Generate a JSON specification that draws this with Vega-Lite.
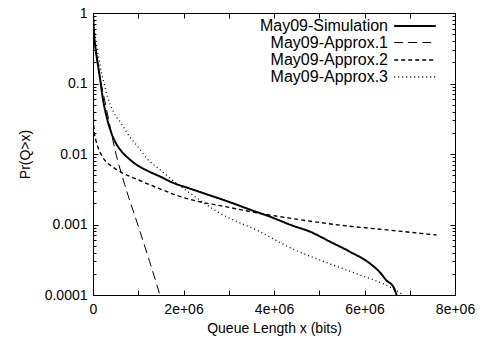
{
  "$schema": "https://vega.github.io/schema/vega-lite/v6.json",
  "width": 362,
  "height": 282,
  "autosize": "none",
  "padding": {"left": 93, "top": 13, "right": 36, "bottom": 44},
  "background": "white",
  "config": {
    "view": {"stroke": "black", "strokeWidth": 1},
    "axis": {
      "domainColor": "black",
      "tickColor": "black",
      "labelColor": "black",
      "titleColor": "black",
      "labelFont": "Liberation Sans",
      "titleFont": "Liberation Sans",
      "labelFontSize": 14,
      "titleFontSize": 14,
      "titleFontWeight": "normal",
      "grid": false
    },
    "legend": {
      "labelFont": "Liberation Sans",
      "labelFontSize": 16,
      "labelColor": "black"
    }
  },
  "data": {
    "values": [
      {"s": "May09-Simulation", "x": 0, "y": 1},
      {"s": "May09-Simulation", "x": 10000, "y": 0.7},
      {"s": "May09-Simulation", "x": 30000, "y": 0.45},
      {"s": "May09-Simulation", "x": 60000, "y": 0.3},
      {"s": "May09-Simulation", "x": 100000, "y": 0.2},
      {"s": "May09-Simulation", "x": 150000, "y": 0.125},
      {"s": "May09-Simulation", "x": 220000, "y": 0.06},
      {"s": "May09-Simulation", "x": 300000, "y": 0.034},
      {"s": "May09-Simulation", "x": 405000, "y": 0.02},
      {"s": "May09-Simulation", "x": 500000, "y": 0.0145},
      {"s": "May09-Simulation", "x": 626000, "y": 0.011},
      {"s": "May09-Simulation", "x": 800000, "y": 0.0085},
      {"s": "May09-Simulation", "x": 1000000, "y": 0.0068},
      {"s": "May09-Simulation", "x": 1200000, "y": 0.0058},
      {"s": "May09-Simulation", "x": 1480000, "y": 0.0048},
      {"s": "May09-Simulation", "x": 1770000, "y": 0.0039},
      {"s": "May09-Simulation", "x": 2100000, "y": 0.0033},
      {"s": "May09-Simulation", "x": 2500000, "y": 0.0027},
      {"s": "May09-Simulation", "x": 3000000, "y": 0.0021},
      {"s": "May09-Simulation", "x": 3500000, "y": 0.0016},
      {"s": "May09-Simulation", "x": 3900000, "y": 0.0013},
      {"s": "May09-Simulation", "x": 4400000, "y": 0.00097},
      {"s": "May09-Simulation", "x": 4800000, "y": 0.00079},
      {"s": "May09-Simulation", "x": 5240000, "y": 0.00057},
      {"s": "May09-Simulation", "x": 5680000, "y": 0.00041},
      {"s": "May09-Simulation", "x": 6120000, "y": 0.00028},
      {"s": "May09-Simulation", "x": 6340000, "y": 0.00021},
      {"s": "May09-Simulation", "x": 6490000, "y": 0.00016},
      {"s": "May09-Simulation", "x": 6640000, "y": 0.00013},
      {"s": "May09-Simulation", "x": 6710000, "y": 0.0001},

      {"s": "May09-Approx.1", "x": 0, "y": 1},
      {"s": "May09-Approx.1", "x": 40000, "y": 0.4},
      {"s": "May09-Approx.1", "x": 100000, "y": 0.2},
      {"s": "May09-Approx.1", "x": 180000, "y": 0.1},
      {"s": "May09-Approx.1", "x": 258000, "y": 0.058},
      {"s": "May09-Approx.1", "x": 405000, "y": 0.02},
      {"s": "May09-Approx.1", "x": 486000, "y": 0.0115},
      {"s": "May09-Approx.1", "x": 700000, "y": 0.0037},
      {"s": "May09-Approx.1", "x": 1000000, "y": 0.00095},
      {"s": "May09-Approx.1", "x": 1250000, "y": 0.0003},
      {"s": "May09-Approx.1", "x": 1480000, "y": 0.0001},

      {"s": "May09-Approx.2", "x": 0, "y": 1},
      {"s": "May09-Approx.2", "x": 3000, "y": 0.3},
      {"s": "May09-Approx.2", "x": 6000, "y": 0.08},
      {"s": "May09-Approx.2", "x": 12000, "y": 0.03},
      {"s": "May09-Approx.2", "x": 30000, "y": 0.02},
      {"s": "May09-Approx.2", "x": 60000, "y": 0.016},
      {"s": "May09-Approx.2", "x": 120000, "y": 0.012},
      {"s": "May09-Approx.2", "x": 258000, "y": 0.0082},
      {"s": "May09-Approx.2", "x": 400000, "y": 0.0068},
      {"s": "May09-Approx.2", "x": 626000, "y": 0.0055},
      {"s": "May09-Approx.2", "x": 1000000, "y": 0.0043},
      {"s": "May09-Approx.2", "x": 1480000, "y": 0.0032},
      {"s": "May09-Approx.2", "x": 1920000, "y": 0.0025},
      {"s": "May09-Approx.2", "x": 2360000, "y": 0.0021},
      {"s": "May09-Approx.2", "x": 2810000, "y": 0.00185},
      {"s": "May09-Approx.2", "x": 3690000, "y": 0.00144},
      {"s": "May09-Approx.2", "x": 4350000, "y": 0.00123},
      {"s": "May09-Approx.2", "x": 5460000, "y": 0.00098},
      {"s": "May09-Approx.2", "x": 6560000, "y": 0.00083},
      {"s": "May09-Approx.2", "x": 7590000, "y": 0.00071},

      {"s": "May09-Approx.3", "x": 0, "y": 1},
      {"s": "May09-Approx.3", "x": 30000, "y": 0.6},
      {"s": "May09-Approx.3", "x": 80000, "y": 0.35},
      {"s": "May09-Approx.3", "x": 150000, "y": 0.19},
      {"s": "May09-Approx.3", "x": 229000, "y": 0.11},
      {"s": "May09-Approx.3", "x": 330000, "y": 0.062},
      {"s": "May09-Approx.3", "x": 450000, "y": 0.04},
      {"s": "May09-Approx.3", "x": 626000, "y": 0.027},
      {"s": "May09-Approx.3", "x": 800000, "y": 0.018},
      {"s": "May09-Approx.3", "x": 1000000, "y": 0.0125},
      {"s": "May09-Approx.3", "x": 1200000, "y": 0.0085},
      {"s": "May09-Approx.3", "x": 1480000, "y": 0.006},
      {"s": "May09-Approx.3", "x": 1850000, "y": 0.0038},
      {"s": "May09-Approx.3", "x": 2140000, "y": 0.0028},
      {"s": "May09-Approx.3", "x": 2810000, "y": 0.00144},
      {"s": "May09-Approx.3", "x": 3690000, "y": 0.00079},
      {"s": "May09-Approx.3", "x": 4350000, "y": 0.00047},
      {"s": "May09-Approx.3", "x": 5090000, "y": 0.0003},
      {"s": "May09-Approx.3", "x": 5830000, "y": 0.0002},
      {"s": "May09-Approx.3", "x": 6560000, "y": 0.00013},
      {"s": "May09-Approx.3", "x": 6860000, "y": 0.0001}
    ]
  },
  "layer": [
    {
      "mark": {"type": "line", "clip": true, "interpolate": "monotone", "color": "black"},
      "encoding": {
        "x": {
          "field": "x", "type": "quantitative",
          "scale": {"domain": [0, 8000000], "nice": false, "zero": false},
          "axis": {
            "orient": "bottom",
            "title": "Queue Length x (bits)",
            "values": [0, 1000000, 2000000, 3000000, 4000000, 5000000, 6000000, 7000000, 8000000],
            "labelExpr": "datum.value == 0 ? '0' : (datum.value % 2000000 == 0 ? (datum.value / 1000000) + 'e+06' : '')",
            "tickSize": -5,
            "labelPadding": 12,
            "titlePadding": 5,
            "labelFlush": false
          }
        },
        "y": {
          "field": "y", "type": "quantitative",
          "scale": {"type": "log", "domain": [0.0001, 1], "nice": false},
          "axis": {
            "orient": "left",
            "title": "Pr(Q>x)",
            "values": [0.0001, 0.0002, 0.0003, 0.0004, 0.0005, 0.0006, 0.0007, 0.0008, 0.0009, 0.001, 0.002, 0.003, 0.004, 0.005, 0.006, 0.007, 0.008, 0.009, 0.01, 0.02, 0.03, 0.04, 0.05, 0.06, 0.07, 0.08, 0.09, 0.1, 0.2, 0.3, 0.4, 0.5, 0.6, 0.7, 0.8, 0.9, 1],
            "labelExpr": "indexof([1, 0.1, 0.01, 0.001, 0.0001], datum.value) >= 0 ? format(datum.value, '') : ''",
            "tickSize": {"condition": {"test": "indexof([1, 0.1, 0.01, 0.001, 0.0001], datum.value) >= 0", "value": -5}, "value": -3},
            "labelPadding": 11,
            "titlePadding": 12,
            "labelFlush": false
          }
        },
        "strokeDash": {
          "field": "s", "type": "nominal",
          "scale": {
            "domain": ["May09-Simulation", "May09-Approx.1", "May09-Approx.2", "May09-Approx.3"],
            "range": [[1, 0], [9, 5], [4, 3], [1, 3]]
          },
          "legend": {
            "title": null,
            "orient": "none",
            "legendX": 313,
            "legendY": 4,
            "padding": 0,
            "symbolType": "M-2.6,0H2.6",
            "symbolSize": 256,
            "symbolStrokeWidth": 1.8,
            "symbolStrokeColor": "black",
            "labelAlign": "right",
            "labelOffset": -36,
            "rowPadding": 0
          }
        },
        "strokeWidth": {
          "field": "s", "type": "nominal",
          "scale": {
            "type": "ordinal",
            "domain": ["May09-Simulation", "May09-Approx.1", "May09-Approx.2", "May09-Approx.3"],
            "range": [2, 1, 1.4, 1.3]
          },
          "legend": null
        }
      }
    },
    {
      "mark": {"type": "line", "opacity": 0},
      "encoding": {
        "x": {
          "field": "x", "type": "quantitative",
          "scale": {"domain": [0, 8000000], "nice": false, "zero": false},
          "axis": {
            "orient": "top", "title": null, "labels": false,
            "values": [0, 1000000, 2000000, 3000000, 4000000, 5000000, 6000000, 7000000, 8000000],
            "tickSize": -5
          }
        },
        "y": {
          "field": "y", "type": "quantitative",
          "scale": {"type": "log", "domain": [0.0001, 1], "nice": false},
          "axis": {
            "orient": "right", "title": null, "labels": false,
            "values": [0.0001, 0.0002, 0.0003, 0.0004, 0.0005, 0.0006, 0.0007, 0.0008, 0.0009, 0.001, 0.002, 0.003, 0.004, 0.005, 0.006, 0.007, 0.008, 0.009, 0.01, 0.02, 0.03, 0.04, 0.05, 0.06, 0.07, 0.08, 0.09, 0.1, 0.2, 0.3, 0.4, 0.5, 0.6, 0.7, 0.8, 0.9, 1],
            "tickSize": {"condition": {"test": "indexof([1, 0.1, 0.01, 0.001, 0.0001], datum.value) >= 0", "value": -5}, "value": -3}
          }
        }
      }
    }
  ],
  "resolve": {"axis": {"x": "independent", "y": "independent"}}
}
